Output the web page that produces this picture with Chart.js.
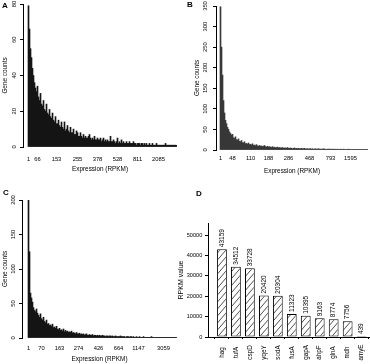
<!DOCTYPE html>
<html><head><meta charset="utf-8">
<script src="https://cdn.jsdelivr.net/npm/chart.js@4.4.1/dist/chart.umd.min.js"></script>
<style>
html,body{margin:0;padding:0;background:#fff;}
body{width:370px;height:364px;position:relative;overflow:hidden;}
canvas{position:absolute;}
.lab{position:absolute;font:bold 8px "Liberation Sans",Arial,sans-serif;color:#000;line-height:8px;}
</style></head><body>
<canvas id="cA" width="185" height="180" style="left:0;top:0"></canvas>
<canvas id="cB" width="185" height="180" style="left:185px;top:0"></canvas>
<canvas id="cC" width="185" height="184" style="left:0;top:180px"></canvas>
<canvas id="cD" width="210" height="184" style="left:160px;top:180px"></canvas>
<div class="lab" style="left:2px;top:2px">A</div>
<div class="lab" style="left:187px;top:1px">B</div>
<div class="lab" style="left:3px;top:189px">C</div>
<div class="lab" style="left:196px;top:190px">D</div>
<script>
// ---------- data ----------
const aCounts = [
79,66,55,50,44,40,36,33,31,34,
28,26,30,24,23,26,21,20,24,19,
18,21,17,16,19,15,14,17,13,13,
15,12,11,14,11,10,14,9,10,12,
9,8,11,8,8,10,7,7,9,8,
6,6,8,6,5,7,5,6,5,5,
6,7,5,4,5,4,6,4,4,5,
4,4,5,3,4,5,3,4,3,4,
3,3,6,3,3,4,3,2,3,5,
2,3,2,4,2,3,2,2,3,2,
2,3,2,2,2,3,2,2,1,2,
2,2,1,2,2,1,2,1,2,1,
1,2,1,1,2,1,1,1,2,1,
1,1,1,1,1,1,1,2,1,1,
1,1,1,1,1,1,1,1,1];
const aTickIdx = [0, 9, 28, 49, 69, 89, 109, 130];
const aTickLabels = ['1','66','153','255','378','528','811','2085'];
const aYTicks = [0, 20, 40, 60, 80];

const bCounts = [
348,250,182,120,90,72,64,55,50,44,
40,36,38,30,28,32,25,24,27,21,
20,23,18,17,20,15,16,14,17,13,
14,12,15,11,12,10,13,10,9,11,
9,10,8,9,11,8,7,9,7,8,
7,6,8,6,7,5,6,7,5,6,
5,5,6,4,5,5,4,6,4,4,
5,4,3,4,5,3,4,3,4,3,
3,4,3,3,4,2,3,3,2,3,
3,2,3,2,2,3,2,2,3,2,
2,2,2,3,2,2,1,2,2,2,
2,1,2,2,1,2,1,2,1,1,
2,1,1,2,1,1,1,1,2,1,
1,1,1,1,1,1,1,1,1,1,
1,1,1,1,1,1,1,1];
const bTickIdx = [0, 12, 30, 48, 68, 89, 110, 130];
const bTickLabels = ['1','48','110','188','286','468','793','1595'];
const bYTicks = [0, 50, 100, 150, 200, 250, 300, 350];

const cCounts = [
200,125,65,58,52,44,40,38,42,36,
33,30,35,28,26,30,24,22,26,20,
21,18,19,17,20,15,16,14,17,13,
12,14,11,12,10,13,9,11,9,10,
8,9,8,10,7,8,7,6,8,6,
6,7,5,6,5,6,4,5,6,4,
4,5,4,4,5,3,4,4,3,4,
3,4,3,3,4,3,3,2,3,3,
2,3,3,2,3,2,2,3,2,2,
2,2,3,2,2,2,2,1,2,2,
2,1,2,2,1,2,1,1,2,1,
1,2,1,1,1,2,1,1,1,1,
1,1,1,2,1,1,1,1,1,1,
1,1,1,1,1,1,1,1,1,1,
1,1,1,1,1,1,1,1,1];
const cTickIdx = [0, 13, 31, 50, 70, 90, 110, 135];
const cTickLabels = ['1','70','163','274','426','664','1147','3059'];
const cYTicks = [0, 50, 100, 150, 200];

const dGenes = ['hag','tufA','cspD','yqeY','sodA','fusA','gapA','ahpF','glnA','mdh','amyE'];
const dValues = [43159, 34512, 33728, 20420, 20304, 11323, 10395, 9163, 8774, 7756, 439];
const dYTicks = [0, 10000, 20000, 30000, 40000, 50000];

// ---------- drawing ----------
const FONT = '"Liberation Sans", Arial, sans-serif';

function zeroPad(s){ s.paddingLeft = 0; s.paddingRight = 0; s.paddingTop = 0; s.paddingBottom = 0; }

function hist(id, counts, tickIdx, tickLabels, yTicks, g) {
  return new Chart(document.getElementById(id), {
    type: 'bar',
    data: { datasets: [{
      data: counts.map((v, i) => ({x: i, y: v})),
      backgroundColor: g.color, borderWidth: 0,
      barPercentage: 1, categoryPercentage: 1
    }]},
    options: {
      responsive: false, animation: false, devicePixelRatio: 1,
      layout: { padding: { left: 0, top: g.top, right: g.right, bottom: 0 } },
      plugins: { legend: {display: false}, tooltip: {enabled: false} },
      scales: {
        x: {
          type: 'linear', offset: false, min: g.xmin, max: g.xmax,
          grid: {display: false, drawTicks: false},
          border: {display: false},
          afterBuildTicks: s => { s.ticks = tickIdx.map(v => ({value: v})); },
          ticks: { autoSkip: false, minRotation: 0, maxRotation: 0, padding: g.xtPad,
                   color: '#000', font: {size: 5.8, family: FONT},
                   callback: (v, i) => tickLabels[i] },
          title: { display: true, text: 'Expression (RPKM)', color: '#000',
                   font: {size: 6.4, family: FONT}, padding: {top: 0, bottom: g.xTitlePad} },
          afterFit: s => { s.height = g.xh; zeroPad(s); }
        },
        y: {
          type: 'linear', min: 0, max: yTicks[yTicks.length - 1],
          grid: {display: true, drawOnChartArea: false, drawTicks: true, tickLength: 3, color: '#000', lineWidth: 1},
          border: {display: true, color: '#000', width: 1},
          afterBuildTicks: s => { s.ticks = yTicks.map(v => ({value: v})); },
          ticks: { minRotation: 90, maxRotation: 90, crossAlign: 'center', padding: g.ytPad,
                   color: '#000', font: {size: 5.8, family: FONT}, callback: v => String(v) },
          title: { display: true, text: 'Gene counts', color: '#000',
                   font: {size: 6.4, family: FONT}, padding: {top: g.yTitlePad, bottom: 0} },
          afterFit: s => { s.width = g.yw; zeroPad(s); }
        }
      }
    }
  });
}

hist('cA', aCounts, aTickIdx, aTickLabels, aYTicks,
  {color: '#151515', top: 4, right: 8, xmin: -5.5, xmax: 148.5, xh: 33, yw: 23,
   xtPad: 8.9, xTitlePad: 6.7, ytPad: 2, yTitlePad: 1.2});
hist('cB', bCounts, bTickIdx, bTickLabels, bYTicks,
  {color: '#383838', top: 6, right: 2, xmin: -4.5, xmax: 147.5, xh: 30, yw: 31,
   xtPad: 5.4, xTitlePad: 4.5, ytPad: 2.5, yTitlePad: 7.9});
hist('cC', cCounts, cTickIdx, cTickLabels, cYTicks,
  {color: '#151515', top: 20, right: 8, xmin: -6.5, xmax: 148.5, xh: 26, yw: 22,
   xtPad: 7.4, xTitlePad: 1.2, ytPad: 0.5, yTitlePad: 1.2});

// panel D
const cD = document.getElementById('cD');
const tile = document.createElement('canvas');
tile.width = 6; tile.height = 7;
(function(){
  const g = tile.getContext('2d');
  g.fillStyle = '#fff'; g.fillRect(0, 0, 6, 7);
  g.strokeStyle = '#222'; g.lineWidth = 0.8;
  for (let k = -1; k <= 1; k++) { g.beginPath(); g.moveTo(k * 6, 7); g.lineTo((k + 1) * 6, 0); g.stroke(); }
})();
const hatch = cD.getContext('2d').createPattern(tile, 'repeat');

const barTextPlugin = {
  id: 'barText',
  afterDatasetsDraw(chart) {
    const ctx = chart.ctx;
    const meta = chart.getDatasetMeta(0);
    const xs = chart.scales.x;
    ctx.save();
    ctx.fillStyle = '#000';
    ctx.textBaseline = 'middle';
    meta.data.forEach((bar, i) => {
      ctx.save();
      ctx.font = '6.5px ' + FONT;
      ctx.textAlign = 'left';
      ctx.translate(bar.x, bar.y - 2);
      ctx.rotate(-Math.PI / 2);
      ctx.fillText(String(dValues[i]), 0, 0);
      ctx.restore();
      ctx.save();
      ctx.font = '6.3px ' + FONT;
      ctx.textAlign = 'center';
      ctx.translate(xs.getPixelForValue(i + 1), xs.top + 15.5);
      ctx.rotate(-Math.PI / 2);
      ctx.fillText(dGenes[i], 0, 0);
      ctx.restore();
    });
    ctx.restore();
  }
};

new Chart(cD, {
  type: 'bar',
  data: { datasets: [{
    data: dGenes.map((g, i) => ({x: i + 1, y: dValues[i]})),
    backgroundColor: hatch, borderColor: '#000', borderWidth: 1, borderSkipped: false,
    barPercentage: 0.7, categoryPercentage: 1
  }]},
  options: {
    responsive: false, animation: false, devicePixelRatio: 1,
    layout: { padding: { left: 0, top: 43, right: 0, bottom: 0 } },
    plugins: { legend: {display: false}, tooltip: {enabled: false} },
    scales: {
      x: {
        type: 'linear', offset: false, min: 0, max: 11.6,
        grid: {display: true, drawOnChartArea: false, drawTicks: true, tickLength: 2, color: '#000'},
        border: {display: true, color: '#000', width: 1},
        afterBuildTicks: s => { s.ticks = dGenes.map((g, i) => ({value: i + 1})); },
        ticks: { display: false },
        afterFit: s => { s.height = 27; zeroPad(s); }
      },
      y: {
        type: 'linear', min: 0, max: 56000,
        grid: {display: true, drawOnChartArea: false, drawTicks: true, tickLength: 3, color: '#000'},
        border: {display: true, color: '#000', width: 1},
        afterBuildTicks: s => { s.ticks = dYTicks.map(v => ({value: v})); },
        ticks: { padding: 2.7, color: '#000', font: {size: 5.6, family: FONT}, callback: v => String(v) },
        title: { display: true, text: 'RPKM value', color: '#000',
                 font: {size: 7, family: FONT}, padding: {top: 16.5, bottom: 0} },
        afterFit: s => { s.width = 48; zeroPad(s); }
      }
    }
  },
  plugins: [barTextPlugin]
});
</script>
</body></html>
